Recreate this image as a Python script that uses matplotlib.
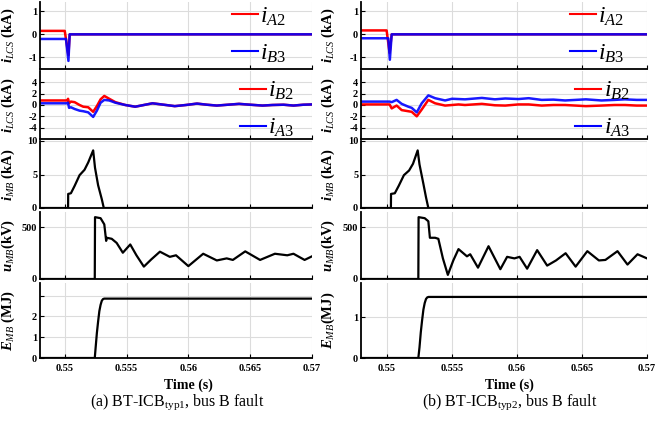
import numpy as np
import matplotlib
matplotlib.use("Agg")
import matplotlib.pyplot as plt
from matplotlib.lines import Line2D

plt.rcParams['font.family'] = ['Liberation Serif', 'DejaVu Serif']
plt.rcParams['mathtext.fontset'] = 'custom'
plt.rcParams['mathtext.rm'] = 'Liberation Serif'
plt.rcParams['mathtext.it'] = 'Liberation Serif:italic'
plt.rcParams['mathtext.bf'] = 'Liberation Serif:bold'
plt.rcParams['mathtext.bfit'] = 'Liberation Serif:bold:italic'

# ---------------- data ----------------
xticks = [0.55, 0.555, 0.56, 0.565, 0.57]
xtick_labels = ['0.55', '0.555', '0.56', '0.565', '0.57']

# (a) typ1
a1_t_red = [0.548, 0.5500, 0.5503, 0.5504, 0.570]
a1_red = [0.15, 0.15, -0.9, 0.0, 0.0]
a1_t_blue = [0.548, 0.5501, 0.5503, 0.5504, 0.570]
a1_blue = [-0.2, -0.2, -1.15, 0.0, 0.0]

a2_t = [0.548, 0.5502, 0.55027, 0.55035, 0.5505, 0.5508, 0.5512, 0.5515, 0.5519, 0.5523,
        0.5526, 0.5529, 0.5532, 0.5536, 0.5541, 0.5549, 0.5557, 0.5564, 0.5571, 0.5580,
        0.5589, 0.5598, 0.5607, 0.5615, 0.5623, 0.5632, 0.5641, 0.5650, 0.5660, 0.5668,
        0.5677, 0.5685, 0.5693, 0.5700]
a2_red = [0.8, 0.8, 1.1, 0.3, 0.6, 0.5, 0.0, -0.3, -0.4, -1.2,
          -0.2, 1.0, 1.6, 1.1, 0.5, 0.0, -0.3, 0.0, 0.3, 0.05,
          -0.2, 0.0, 0.25, 0.05, -0.1, 0.05, 0.2, 0.05, -0.1, 0.0,
          0.05, -0.1, 0.05, 0.1]
a2_blue = [0.3, 0.3, 0.4, -0.5, -0.4, -0.7, -1.0, -1.1, -1.3, -2.1,
           -1.0, 0.4, 0.9, 0.8, 0.4, 0.0, -0.3, 0.0, 0.3, 0.05,
           -0.2, 0.0, 0.25, 0.05, -0.1, 0.05, 0.2, 0.05, -0.1, 0.0,
           0.05, -0.1, 0.05, 0.1]

a3_t = [0.548, 0.55027, 0.55028, 0.5505, 0.5508, 0.5512, 0.5516, 0.5519, 0.5523, 0.55245,
        0.5527, 0.5530, 0.55316, 0.570]
a3_i = [0, 0, 2.1, 2.2, 3.3, 4.9, 5.7, 6.8, 8.6, 6.0, 3.4, 1.3, 0, 0]

a4_t = [0.548, 0.55243, 0.55245, 0.5529, 0.5532, 0.55335, 0.5534, 0.5538, 0.5542, 0.5547,
        0.5553, 0.5558, 0.5564, 0.5570, 0.5577, 0.5585, 0.5590, 0.5600, 0.5612, 0.5623,
        0.5631, 0.5636, 0.5646, 0.5658, 0.5670, 0.5680, 0.5685, 0.5694, 0.5700]
a4_u = [0, 0, 600, 590, 530, 370, 400, 390, 350, 255,
        335, 230, 120, 190, 265, 215, 230, 125, 245, 180,
        200, 185, 268, 185, 245, 230, 245, 185, 220]

a5_t = [0.548, 0.55243, 0.5525, 0.5526, 0.5527, 0.5528, 0.5529, 0.5530, 0.5531, 0.5532, 0.570]
a5_e = [0, 0, 0.5, 1.2, 1.75, 2.25, 2.55, 2.75, 2.83, 2.85, 2.85]

# (b) typ2
b1_t_red = [0.548, 0.54997, 0.5502, 0.55036, 0.570]
b1_red = [0.17, 0.17, -0.8, 0.0, 0.0]
b1_t_blue = [0.548, 0.5501, 0.55022, 0.55036, 0.570]
b1_blue = [-0.17, -0.17, -1.1, 0.0, 0.0]

b2_t = [0.548, 0.5502, 0.55036, 0.55074, 0.55113, 0.55164, 0.5519, 0.55229, 0.55267, 0.55318,
        0.5537, 0.55447, 0.5550, 0.5555, 0.5560, 0.5573, 0.5583, 0.5591, 0.5601, 0.5609,
        0.5619, 0.5628, 0.5637, 0.5645, 0.5653, 0.5665, 0.5675, 0.5683, 0.5692, 0.5700]
b2_red = [0.1, 0.1, -0.6, -0.1, -0.9, -1.1, -1.2, -2.0, -0.8, 0.9,
          0.3, -0.1, 0.0, 0.1, 0.0, 0.2, -0.05, -0.1, 0.1, 0.1,
          -0.1, 0.0, 0.0, -0.1, -0.2, -0.1, 0.0, 0.0, -0.1, -0.1]
b2_blue = [0.6, 0.6, 0.5, 0.9, 0.2, -0.3, -0.5, -1.3, 0.3, 1.7,
           1.2, 0.8, 1.1, 1.05, 1.0, 1.25, 1.0, 1.15, 1.05, 1.2,
           0.9, 0.95, 0.8, 0.9, 1.0, 0.8, 0.9, 1.0, 0.9, 0.9]

b3_t = [0.548, 0.5503, 0.55031, 0.5506, 0.5509, 0.5513, 0.5517, 0.5520, 0.55236, 0.5525,
        0.5528, 0.5530, 0.55318, 0.570]
b3_i = [0, 0, 2.1, 2.2, 3.3, 4.9, 5.6, 6.6, 8.6, 6.5, 3.6, 1.6, 0, 0]

b4_t = [0.548, 0.55241, 0.55243, 0.5529, 0.55318, 0.5533, 0.5537, 0.55395, 0.5543, 0.55468,
        0.5551, 0.5555, 0.55615, 0.5564, 0.5570, 0.55781, 0.55872, 0.55924, 0.5598, 0.5602,
        0.56078, 0.56155, 0.56232, 0.5630, 0.56374, 0.56451, 0.56541, 0.5663, 0.5668, 0.56773,
        0.5685, 0.56927, 0.5700]
b4_u = [0, 0, 600, 590, 560, 400, 400, 390, 200, 40,
        180, 290, 220, 240, 110, 318, 95, 215, 200, 215,
        100, 280, 130, 180, 250, 120, 270, 180, 185, 270,
        140, 240, 200]

b5_t = [0.548, 0.55241, 0.5525, 0.5526, 0.5527, 0.5528, 0.5529, 0.5530, 0.5531, 0.5532, 0.570]
b5_e = [0, 0, 0.26, 0.63, 0.92, 1.18, 1.34, 1.44, 1.48, 1.49, 1.49]

# ---------------- figure ----------------
W, H = 655, 426
fig = plt.figure(figsize=(W / 100, H / 100), dpi=100)

rows = [(2, 69), (71, 139), (141, 208), (212, 279), (283, 358)]
cols = [(40, 312), (361, 647)]

RED = '#ff0000'
BLUE = '#0000ff'


def make_ax(col, row):
    x0, x1 = cols[col]
    y0, y1 = rows[row]
    ax = fig.add_axes([x0 / W, 1 - y1 / H, (x1 - x0) / W, (y1 - y0) / H])
    ax.set_xlim(0.548, 0.570)
    ax.set_xticks(xticks)
    ax.grid(True, color='#dcdcdc', lw=0.8)
    ax.set_axisbelow(True)
    for s in ['top', 'right']:
        ax.spines[s].set_visible(False)
    for s in ['left', 'bottom']:
        ax.spines[s].set_linewidth(1.3)
    ax.tick_params(direction='in', length=3, width=0.8, pad=2, labelsize=7.5)
    if row == 4:
        ax.set_xticklabels(xtick_labels, fontweight='bold')
        ax.tick_params(axis='x', pad=4)
    else:
        ax.set_xticklabels([])
    ax.yaxis.set_label_coords(-0.085, 0.5)
    return ax


def legend(ax, labels, anchor):
    h = [Line2D([], [], color=RED, lw=1.5), Line2D([], [], color=BLUE, lw=1.5)]
    ax.legend(h, labels, loc='upper right', bbox_to_anchor=anchor, frameon=False,
              fontsize=17, handlelength=1.1, handletextpad=0.1, labelspacing=0.62,
              borderaxespad=0, borderpad=0)


data = {
    0: dict(p1=(a1_t_red, a1_red, a1_t_blue, a1_blue), p2=(a2_t, a2_red, a2_blue),
            p3=(a3_t, a3_i), p4=(a4_t, a4_u), p5=(a5_t, a5_e), e_lim=3.6, e_ticks=[0, 1, 2, 3],
            e_labels=['0', '1', '2', ''], u_lab=r'$\mathbfit{u}_{MB}$(kV)',
            e_lab=r'$\mathbfit{E}_{MB}$ (MJ)', leg1=(0.905, 0.95), leg2=(0.935, 0.87)),
    1: dict(p1=(b1_t_red, b1_red, b1_t_blue, b1_blue), p2=(b2_t, b2_red, b2_blue),
            p3=(b3_t, b3_i), p4=(b4_t, b4_u), p5=(b5_t, b5_e), e_lim=1.83, e_ticks=[0, 1],
            e_labels=['0', '1'], u_lab=r'$\mathbfit{u}_{MB}$(kV)',
            e_lab=r'$\mathbfit{E}_{MB}$(MJ)', leg1=(0.92, 0.95), leg2=(0.94, 0.87)),
}

lab_kw = dict(fontsize=10.5, fontweight='bold')

for col in (0, 1):
    d = data[col]
    # panel 1
    ax = make_ax(col, 0)
    tr, r, tb, b = d['p1']
    ax.plot(tr, r, color=RED, lw=1.8)
    ax.plot(tb, b, color=BLUE, lw=1.8, alpha=0.9)
    ax.set_ylim(-1.5, 1.4)
    ax.set_yticks([-1, 0, 1])
    ax.set_yticklabels(['-1', '0', '1'], fontweight='bold')
    ax.set_ylabel(r'$\mathbfit{i}_{LCS}$ (kA)', **lab_kw)
    legend(ax, [r'$i_{A2}$', r'$i_{B3}$'], d['leg1'])

    # panel 2
    ax = make_ax(col, 1)
    t, r, b = d['p2']
    ax.plot(t, r, color=RED, lw=1.8)
    ax.plot(t, b, color=BLUE, lw=1.8, alpha=0.9)
    ax.set_ylim(-6, 6)
    ax.set_yticks([-4, -2, 0, 2, 4])
    ax.set_yticklabels(['-4', '-2', '0', '2', '4'], fontweight='bold')
    ax.set_ylabel(r'$\mathbfit{i}_{LCS}$ (kA)', **lab_kw)
    legend(ax, [r'$i_{B2}$', r'$i_{A3}$'], d['leg2'])

    # panel 3
    ax = make_ax(col, 2)
    t, v = d['p3']
    ax.plot(t, v, color='black', lw=1.6)
    ax.set_ylim(0, 10)
    ax.set_yticks([0, 5, 10])
    ax.set_yticklabels(['0', '5', '10'], fontweight='bold')
    ax.set_ylabel(r'$\mathbfit{i}_{MB}$ (kA)', **lab_kw)

    # panel 4
    ax = make_ax(col, 3)
    t, v = d['p4']
    ax.plot(t, v, color='black', lw=1.6)
    ax.set_ylim(0, 650)
    ax.set_yticks([0, 500])
    ax.set_yticklabels(['0', '500'], fontweight='bold')
    ax.set_ylabel(d['u_lab'], **lab_kw)

    # panel 5
    ax = make_ax(col, 4)
    t, v = d['p5']
    ax.plot(t, v, color='black', lw=1.6)
    ax.set_ylim(0, d['e_lim'])
    ax.set_yticks(d['e_ticks'])
    ax.set_yticklabels(d['e_labels'], fontweight='bold')
    ax.set_ylabel(d['e_lab'], **lab_kw)

fig.text(188 / W, 1 - 385 / H, 'Time (s)', ha='center', va='center', fontsize=10, fontweight='bold')
fig.text(509 / W, 1 - 385 / H, 'Time (s)', ha='center', va='center', fontsize=10, fontweight='bold')
fig.text(177 / W, 1 - 402 / H, r'(a) BT-ICB$_{\rm typ1}$, bus B fault', ha='center', va='center', fontsize=11.5)
fig.text(510 / W, 1 - 402 / H, r'(b) BT-ICB$_{\rm typ2}$, bus B fault', ha='center', va='center', fontsize=11.5)

fig.savefig('out.png', dpi=100)
